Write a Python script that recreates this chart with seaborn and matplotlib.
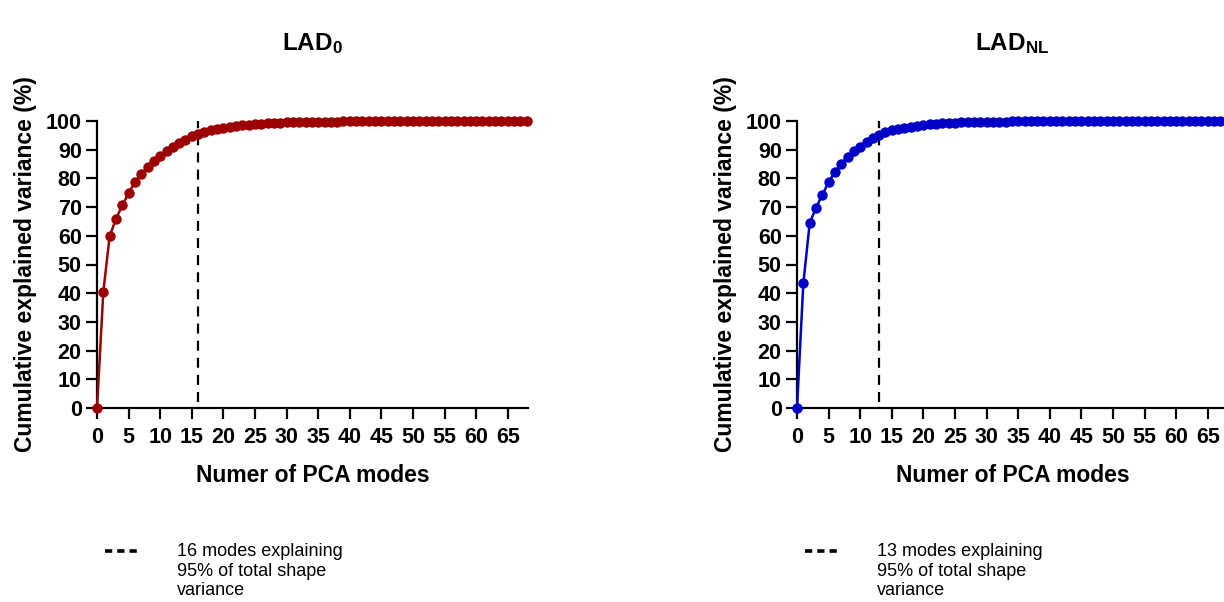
import matplotlib
matplotlib.use("Agg")
import matplotlib.pyplot as plt
import seaborn as sns
from matplotlib.lines import Line2D

# PCA modes 0..68 and cumulative explained variance (%)
modes = list(range(69))

lad0_var = [
    0.0, 40.5, 59.8, 65.9, 70.6, 74.8, 78.8, 81.5, 84.0, 86.2,
    87.9, 89.4, 91.0, 92.3, 93.5, 94.6, 95.5, 96.2, 96.8, 97.3,
    97.7, 98.0, 98.3, 98.5, 98.7, 98.9, 99.05, 99.2, 99.3, 99.4,
    99.5, 99.55, 99.6, 99.65, 99.7, 99.75, 99.78, 99.8, 99.82, 99.84,
    99.86, 99.88, 99.89, 99.9, 99.91, 99.92, 99.93, 99.94, 99.95, 99.95,
    99.96, 99.96, 99.97, 99.97, 99.98, 99.98, 99.98, 99.99, 99.99, 99.99,
    99.99, 100.0, 100.0, 100.0, 100.0, 100.0, 100.0, 100.0, 100.0,
]

ladnl_var = [
    0.0, 43.4, 64.3, 69.8, 74.2, 78.7, 82.3, 85.1, 87.5, 89.5,
    91.1, 92.7, 94.1, 95.2, 96.0, 96.7, 97.2, 97.7, 98.0, 98.3,
    98.6, 98.8, 99.0, 99.15, 99.3, 99.4, 99.5, 99.55, 99.6, 99.65,
    99.7, 99.74, 99.78, 99.8, 99.83, 99.85, 99.87, 99.88, 99.9, 99.91,
    99.92, 99.93, 99.94, 99.95, 99.95, 99.96, 99.96, 99.97, 99.97, 99.98,
    99.98, 99.98, 99.99, 99.99, 99.99, 99.99, 100.0, 100.0, 100.0, 100.0,
    100.0, 100.0, 100.0, 100.0, 100.0, 100.0, 100.0, 100.0, 100.0,
]

cutoffs = [16, 13]
titles = [r"$\mathbf{LAD_0}$", r"$\mathbf{LAD_{NL}}$"]
legend_labels = [
    "16 modes explaining\n95% of total shape\nvariance",
    "13 modes explaining\n95% of total shape\nvariance",
]
colors = ["#9c0000", "#0000c8"]
x_ticks = list(range(0, 70, 5))
y_ticks = list(range(0, 101, 10))

sns.set_style("ticks")
plt.rcParams["font.family"] = ["Liberation Sans", "DejaVu Sans"]
plt.rcParams["text.color"] = "black"
plt.rcParams["axes.labelcolor"] = "black"
plt.rcParams["xtick.color"] = "black"
plt.rcParams["ytick.color"] = "black"
plt.rcParams["mathtext.fontset"] = "custom"
plt.rcParams["mathtext.rm"] = "Liberation Sans"
plt.rcParams["mathtext.bf"] = "Liberation Sans:bold"

fig = plt.figure(figsize=(12.24, 6.02), dpi=100)
W, H = 1224, 602

panels = [
    (lad0_var, 97),
    (ladnl_var, 797),
]

for i, (vals, x0) in enumerate(panels):
    ax = fig.add_axes([x0 / W, 1 - 408 / H, 431 / W, (408 - 121) / H])
    sns.lineplot(x=modes, y=vals, ax=ax, color=colors[i], marker="o",
                 markersize=7.5, markeredgewidth=0, linewidth=1.8,
                 clip_on=False, zorder=3)
    ax.plot([cutoffs[i], cutoffs[i]], [2, 100], color="black",
            linestyle=(0, (4.5, 3.2)), linewidth=1.6, zorder=2)

    ax.set_xlim(0, 68.2)
    ax.set_ylim(0, 100)
    ax.set_xticks(x_ticks)
    ax.set_yticks(y_ticks)
    ax.tick_params(axis="both", direction="out", length=8, width=1.6,
                   labelsize=15.5, color="black", labelcolor="black")
    ax.tick_params(axis="x", pad=6)
    ax.tick_params(axis="y", pad=3)
    for lab in ax.get_xticklabels() + ax.get_yticklabels():
        lab.set_fontweight("bold")
    sns.despine(ax=ax)
    for sp in ["left", "bottom"]:
        ax.spines[sp].set_linewidth(1.6)
        ax.spines[sp].set_color("black")

    ax.set_xlabel("Numer of PCA modes", fontsize=16.5, fontweight="bold",
                  labelpad=11, color="black")
    ax.set_ylabel("Cumulative explained variance (%)", fontsize=16.5,
                  fontweight="bold", labelpad=6, color="black")
    ax.set_title(titles[i], fontsize=17.5, pad=51, color="black")

    # legend below the panel: dashed key aligned with the first text line
    key_y = 1 - 551 / H
    fig.add_artist(Line2D([(x0 + 8) / W, (x0 + 44) / W], [key_y, key_y],
                          transform=fig.transFigure, color="black",
                          linestyle=(0, (2.0, 1.4)), linewidth=2.6))
    fig.text((x0 + 80) / W, 1 - 543 / H, legend_labels[i], fontsize=13,
             ha="left", va="top", linespacing=1.2, color="black")

fig.savefig("out.png", dpi=100)
